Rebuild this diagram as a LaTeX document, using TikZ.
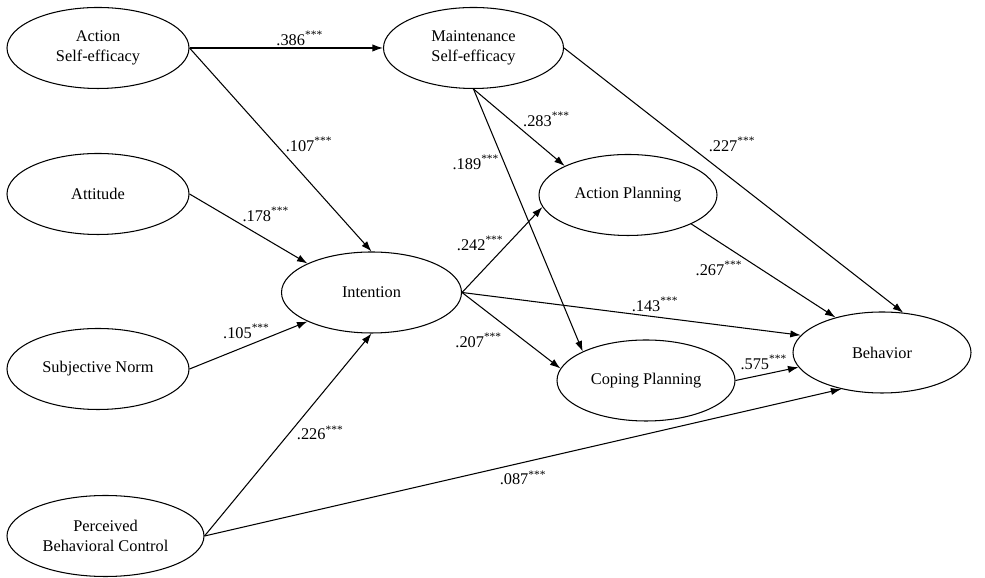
\documentclass[tikz,border=0pt]{standalone}
\usepackage{fontspec}
\setmainfont{Liberation Serif}
\usetikzlibrary{shapes.geometric,arrows.meta,positioning}

\tikzset{
    konstrukt/.style = {draw, ellipse, line width = 0.6pt, inner sep = 0pt, minimum width = 3.6cm, minimum height = 1.62cm, align = center, font = \fontsize{9.3}{11.4}\selectfont},
    pfad/.style = {line width = 0.6pt, -{Latex[length = 2.1mm, width = 1.45mm]}},
    koeff/.style = {inner sep = 1pt, font = \fontsize{9.3}{11}\selectfont}
}
\newcommand{\sterne}{\textsuperscript{***}}

\begin{document}
\begin{tikzpicture}
        % Rahmen
            \useasboundingbox (0, 0) rectangle (19.7, 11.56);

        % Ellipsen
            \node[konstrukt, minimum width = 3.64cm] (ase) at (1.96, 10.6) {Action\\Self-efficacy};
            \node[konstrukt, minimum width = 3.64cm] (att) at (1.96, 7.68) {Attitude};
            \node[konstrukt, minimum width = 3.64cm] (sn) at (1.96, 4.18) {Subjective Norm};
            \node[konstrukt, minimum width = 3.94cm] (pbc) at (2.11, 0.84) {Perceived\\Behavioral Control};
            \node[konstrukt] (int) at (7.43, 5.71) {Intention};
            \node[konstrukt] (mse) at (9.47, 10.6) {Maintenance\\Self-efficacy};
            \node[konstrukt, minimum width = 3.56cm] (ap) at (12.56, 7.66) {Action Planning};
            \node[konstrukt, minimum width = 3.56cm] (cp) at (12.92, 3.95) {Coping Planning};
            \node[konstrukt, minimum width = 3.56cm] (beh) at (17.64, 4.51) {Behavior};

        % Pfeile mit Koeffizienten
            \draw[pfad] (ase.east) -- (mse.west) node[koeff, pos = 0.57, above] {.386\sterne};
            \draw[pfad] (ase.east) -- (int.north) node[koeff, pos = 0.475, anchor = west, xshift = 1.5mm] {.107\sterne};
            \draw[pfad] (att.east) -- (int.north west) node[koeff, pos = 0.43, anchor = south west] {.178\sterne};
            \draw[pfad] (sn.east) -- (int.south west) node[koeff, pos = 0.7, anchor = south east, yshift = -1mm] {.105\sterne};
            \draw[pfad] (pbc.east) -- (int.south) node[koeff, pos = 0.51, anchor = west, xshift = 1mm] {.226\sterne};
            \draw[pfad] (pbc.east) -- (beh.222) node[koeff, pos = 0.46, anchor = north west] {.087\sterne};
            \draw[pfad] (mse.east) -- (beh.62) node[koeff, pos = 0.42, anchor = south west, yshift = 1mm] {.227\sterne};
            \draw[pfad] (mse.south) -- (ap.north west) node[koeff, pos = 0.52, anchor = south west] {.283\sterne};
            \draw[pfad] (mse.south) -- (cp.north west) node[koeff, pos = 0.28, anchor = east, xshift = -0.5mm] {.189\sterne};
            \draw[pfad] (int.east) -- (ap.188) node[koeff, pos = 0.576, anchor = east, xshift = -0.5mm] {.242\sterne};
            \draw[pfad] (int.east) -- (beh.168) node[koeff, pos = 0.57, anchor = south, yshift = 0.6mm] {.143\sterne};
            \draw[pfad] (int.east) -- (cp.172) node[koeff, pos = 0.43, anchor = north east, yshift = -1.2mm] {.207\sterne};
            \draw[pfad] (ap.south east) -- (beh.143) node[koeff, pos = 0.37, anchor = north east] {.267\sterne};
            \draw[pfad] (cp.east) -- (beh.190) node[koeff, pos = 0.45, anchor = south, yshift = 0.5mm] {.575\sterne};
\end{tikzpicture}
\end{document}
